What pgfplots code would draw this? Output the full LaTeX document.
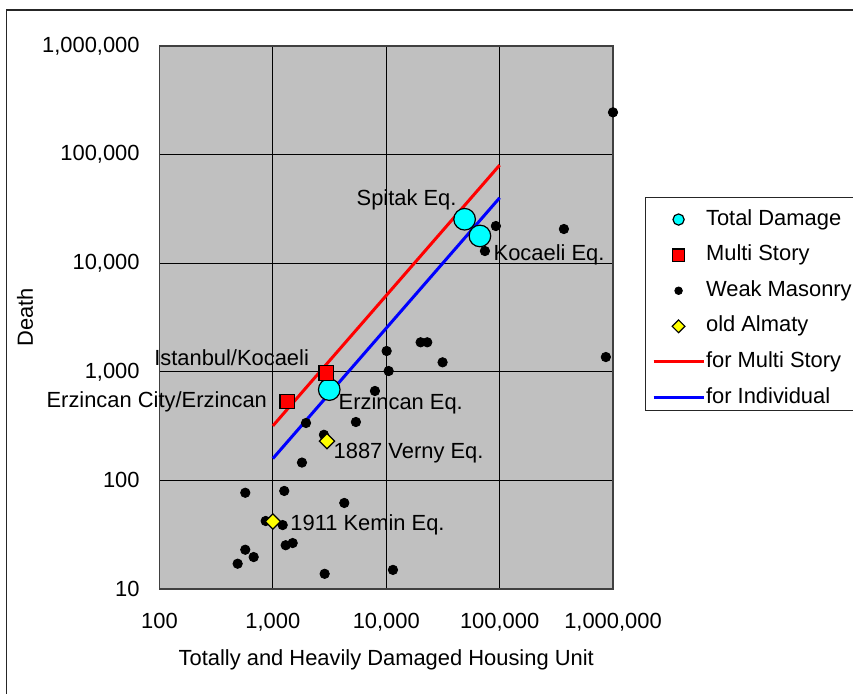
\documentclass[border=0pt]{standalone}
\usepackage{pgfplots}
\pgfplotsset{compat=1.18}
\usepackage{fontspec}
\setmainfont{Liberation Sans}
\definecolor{plotgray}{RGB}{192,192,192}
\definecolor{mcyan}{RGB}{0,255,255}
\definecolor{myellow}{RGB}{255,255,0}
\begin{document}
\fontsize{10.95}{13}\selectfont
\begin{tikzpicture}
\path[use as bounding box] (0,0) rectangle (426.5pt,-346.5pt);
\draw[line width=0.6pt, black!85] (3.25pt,-352pt) -- (3.25pt,-5pt) -- (432pt,-5pt);
\begin{axis}[
  at={(79.75pt,-294.5pt)}, anchor=south west,
  scale only axis, width=226.75pt, height=271.5pt,
  xmode=log, ymode=log,
  xmin=100, xmax=1000000, ymin=10, ymax=1000000,
  clip=false,
  axis background/.style={fill=plotgray},
  grid=major, major grid style={black, line width=0.5pt},
  axis line style={black!75, line width=0.75pt},
  major tick length=0pt, xminorticks=false, yminorticks=false,
  xtick={100,1000,10000,100000,1000000},
  xticklabels={100,{1,000},{10,000},{100,000},{1,000,000}},
  ytick={10,100,1000,10000,100000,1000000},
  yticklabels={10,100,{1,000},{10,000},{100,000},{1,000,000}},
  xticklabel style={anchor=base, inner sep=0pt, yshift=-19.5pt},
  yticklabel style={anchor=east, inner sep=0pt, xshift=-9.75pt},
  xlabel={Totally and Heavily Damaged Housing Unit},
  ylabel={Death},
  xlabel style={at={(axis description cs:0.5,-0.14)}, anchor=base, inner sep=0pt},
  ylabel style={at={(axis description cs:-0.2966,0.5)}, anchor=center, inner sep=0pt},
  legend style={at={(axis description cs:1.0853,0.7005)}, anchor=north west,
    draw=none, fill=none, inner sep=0pt, row sep=7.3pt, column sep=0.5pt,
    nodes={inner sep=0pt, text height=8pt, text depth=2.5pt}},
  legend cell align=left,
  legend image code/.code={\path[draw=none, fill=none] (0pt,-3pt) rectangle (25pt,3pt);
    \draw[mark repeat=2,mark phase=2,#1] plot coordinates {(0pt,0pt) (12.5pt,0pt) (25pt,0pt)};},
]
% lines (drawn first, below the marks)
\addplot[red, line width=1.5pt, no marks, forget plot] coordinates {(1000,318) (100000,80000)};
\addplot[blue, line width=1.5pt, no marks, forget plot] coordinates {(1000,159) (100000,40000)};
% Total Damage
\addplot[only marks, mark=*, mark size=5.4pt, mark options={fill=mcyan, draw=black, line width=0.6pt},
  legend image post style={mark size=2.8pt}] coordinates {
  (49100,25400) (67000,17830) (3142,686)
};
\addlegendentry{Total Damage}
% Multi Story
\addplot[only marks, mark=square*, mark size=3.67pt, mark options={fill=red, draw=black, line width=0.6pt},
  legend image post style={mark size=3.1pt}] coordinates {
  (2958,975) (1340,533)
};
\addlegendentry{Multi Story}
% Weak Masonry
\addplot[only marks, mark=*, mark size=2.35pt, mark options={fill=black, draw=black},
  legend image post style={mark size=1.9pt}] coordinates {
  (1000000,245000) (92700,22000) (369000,20650) (74200,12950) (865000,1368)
  (10080,1555) (20100,1870) (23000,1870) (31400,1223) (10500,1017)
  (7950,666) (5400,345) (1960,338) (2820,263) (1805,146)
  (571,77) (1260,80) (4265,62) (864,42.3) (1220,38.8)
  (1297,25.3) (1495,26.5) (571,23.0) (677,19.7) (489,17.1)
  (2862,13.8) (11460,15.0)
};
\addlegendentry{Weak Masonry}
% old Almaty
\addplot[only marks, mark=square*, mark size=2.7pt, mark options={rotate=45, fill=myellow, draw=black, line width=0.6pt},
  legend image post style={mark size=2.25pt}] coordinates {
  (3000,230) (1000,41.9)
};
\addlegendentry{old Almaty}
\addlegendimage{red, line width=1.5pt, no marks}
\addlegendentry{for Multi Story}
\addlegendimage{blue, line width=1.5pt, no marks}
\addlegendentry{for Individual}
% data labels
\node[anchor=base east, inner sep=0pt] at (axis cs:42000,33650) {Spitak Eq.};
\node[anchor=base west, inner sep=0pt] at (axis cs:87900,10620) {Kocaeli Eq.};
\node[anchor=base east, inner sep=0pt] at (axis cs:2095,1151) {Istanbul/Kocaeli};
\node[anchor=base east, inner sep=0pt] at (axis cs:893,467) {Erzincan City/Erzincan};
\node[anchor=base west, inner sep=0pt] at (axis cs:3776,449) {Erzincan Eq.};
\node[anchor=base west, inner sep=0pt] at (axis cs:3413,159) {1887 Verny Eq.};
\node[anchor=base west, inner sep=0pt] at (axis cs:1416,34.9) {1911 Kemin Eq.};
\end{axis}
\draw[line width=0.6pt, black!85] (440pt,-98.6pt) -- (322.6pt,-98.6pt) -- (322.6pt,-205.3pt) -- (440pt,-205.3pt);
\end{tikzpicture}
\end{document}
